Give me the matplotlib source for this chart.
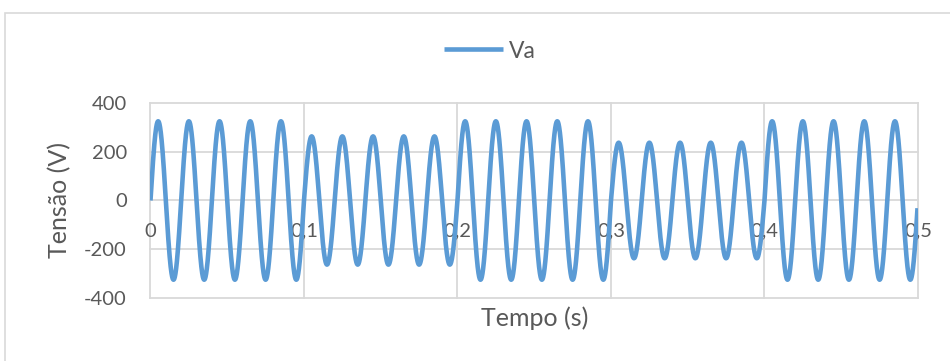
import numpy as np
import matplotlib
matplotlib.use("Agg")
import matplotlib.pyplot as plt
from matplotlib.patches import Rectangle

# forma de onda da tensao Va: 50 Hz, amplitude de pico por intervalo de 0,1 s
freq = 50.0
seg_inicio = [0.0, 0.1, 0.2, 0.3, 0.4]
seg_fim = [0.1, 0.2, 0.3, 0.4, 0.4997]
seg_amp = [325, 263, 325, 237, 325]

x_ticks = [0, 0.1, 0.2, 0.3, 0.4, 0.5]
x_labels = ['0', '0,1', '0,2', '0,3', '0,4', '0,5']
y_ticks = [-400, -200, 0, 200, 400]

cinza = '#595959'
grade = '#d9d9d9'
azul = '#5B9BD5'

plt.rcParams['font.family'] = ['Lato', 'DejaVu Sans']
plt.rcParams['axes.unicode_minus'] = False

# monta o sinal intervalo por intervalo
t_all = []
v_all = []
for t0, t1, a in zip(seg_inicio, seg_fim, seg_amp):
    t = np.arange(t0, t1, 1e-5)
    t_all.append(t)
    v_all.append(a * np.sin(2 * np.pi * freq * t))
t_all = np.concatenate(t_all)
v_all = np.concatenate(v_all)

fig = plt.figure(figsize=(9.5, 3.61), dpi=100)
ax = fig.add_axes([0.1584, 0.1745, 0.8079, 0.5402])

ax.plot(t_all, v_all, color=azul, lw=3.3, label='Va', solid_capstyle='butt', zorder=3)

ax.set_xlim(0, 0.5)
ax.set_ylim(-400, 400)
ax.set_xticks(x_ticks)
ax.set_xticklabels(x_labels)
ax.set_yticks(y_ticks)

for s in ax.spines.values():
    s.set_visible(False)
# rotulos do eixo x ficam junto da linha do zero
ax.spines['bottom'].set_position(('data', 0))

ax.grid(True, color=grade, lw=1.3)
ax.set_axisbelow(True)
for l in ax.get_xgridlines() + ax.get_ygridlines():
    l.set_clip_on(False)

ax.tick_params(axis='both', length=0, labelsize=14.5, labelcolor=cinza)
ax.tick_params(axis='x', pad=16)
ax.tick_params(axis='y', pad=17)

ax.set_xlabel('Tempo (s)', fontsize=18, color=cinza)
ax.set_ylabel('Tensão (V)', fontsize=18, color=cinza)
ax.xaxis.set_label_coords(0.5, -0.045)
ax.yaxis.set_label_coords(-0.103, 0.5)

fig.legend(loc='center', bbox_to_anchor=(490 / 950, 0.8587), bbox_transform=fig.transFigure,
           frameon=False, fontsize=16.5, handlelength=2.6, handletextpad=0.25,
           labelcolor=cinza)

# borda da area do grafico
fig.patches.append(Rectangle((5 / 950, -0.1), 1.0, (361 - 13) / 361 + 0.1,
                             transform=fig.transFigure, fill=False, ec=grade, lw=1.2))

fig.savefig('out.png', dpi=100)
